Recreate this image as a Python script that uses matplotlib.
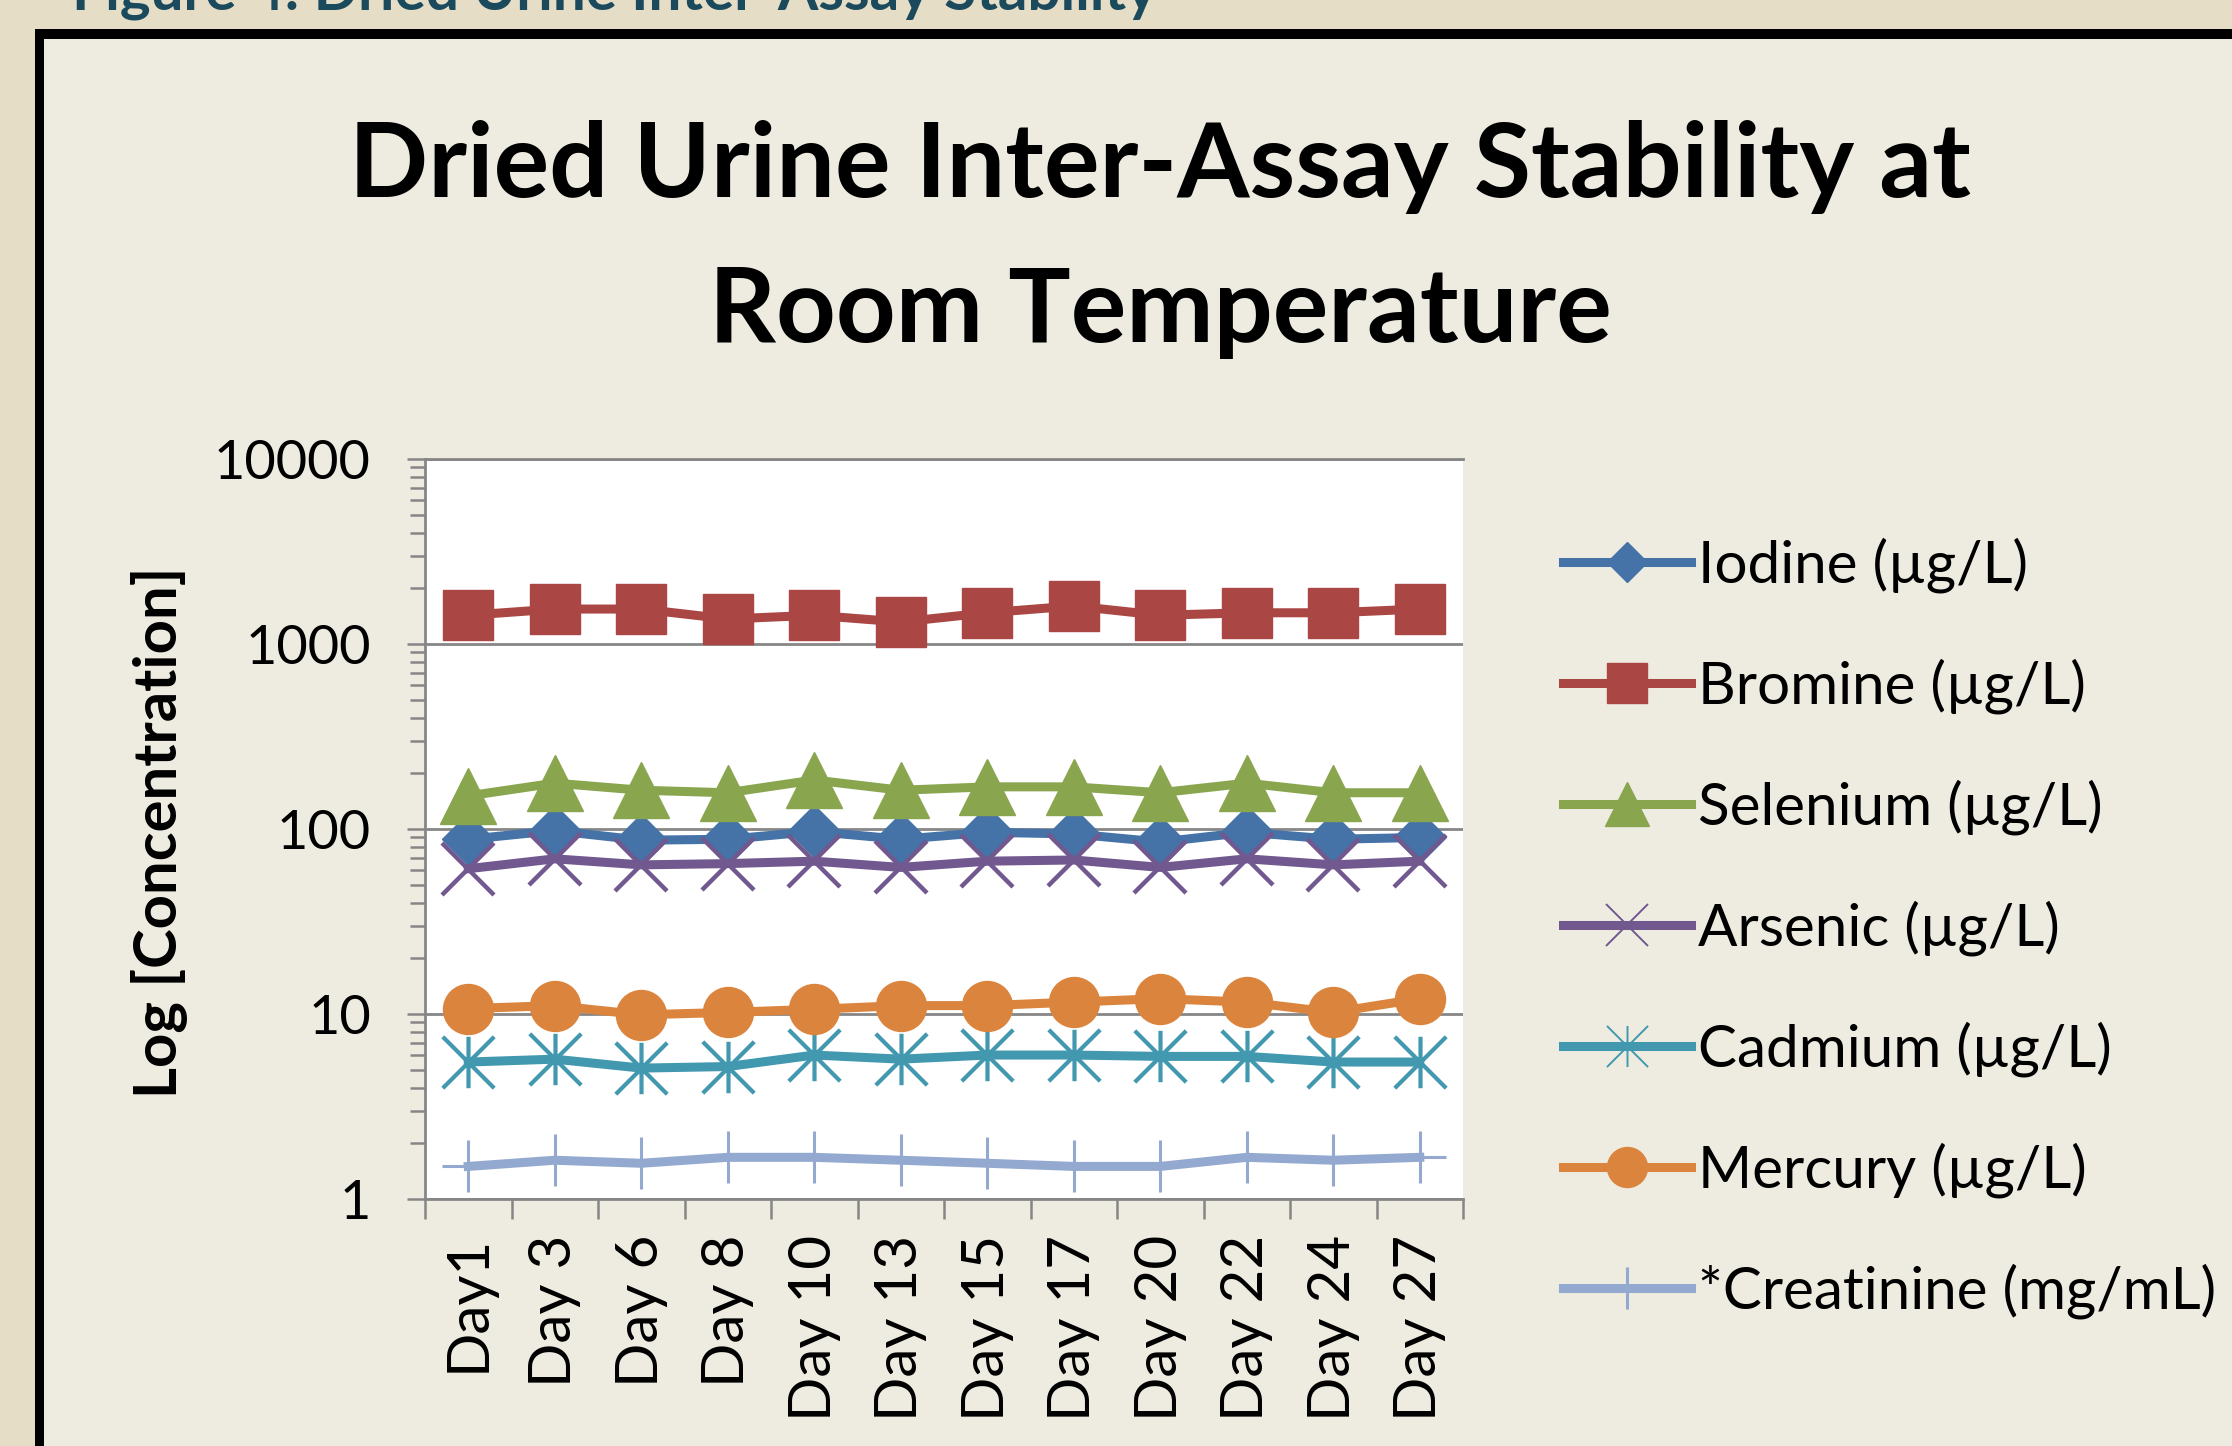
import matplotlib
matplotlib.use("Agg")
import matplotlib.pyplot as plt
from matplotlib.patches import Rectangle
from matplotlib.path import Path
from matplotlib.ticker import LogLocator, NullFormatter

plt.rcParams['font.family'] = ['Lato', 'DejaVu Sans']

# data
days = ["Day1", "Day 3", "Day 6", "Day 8", "Day 10", "Day 13",
        "Day 15", "Day 17", "Day 20", "Day 22", "Day 24", "Day 27"]
iodine = [88, 98, 87, 88, 97, 88, 96, 94, 85, 96, 88, 90]
bromine = [1430, 1545, 1545, 1365, 1430, 1315, 1475, 1605, 1430, 1475, 1475, 1545]
selenium = [151, 177, 162, 157, 184, 162, 169, 169, 157, 177, 157, 157]
arsenic = [61, 69, 64, 65, 67, 62, 67, 68, 62, 69, 64, 67]
cadmium = [5.5, 5.7, 5.1, 5.2, 6.0, 5.7, 6.0, 6.0, 5.9, 5.9, 5.5, 5.5]
mercury = [10.7, 11.1, 9.9, 10.2, 10.6, 11.1, 11.1, 11.6, 12.1, 11.6, 10.2, 12.1]
creatinine = [1.50, 1.62, 1.56, 1.68, 1.68, 1.62, 1.56, 1.50, 1.50, 1.68, 1.62, 1.68]

labels = ["Iodine (\u00b5g/L)", "Bromine (\u00b5g/L)", "Selenium (\u00b5g/L)",
          "Arsenic (\u00b5g/L)", "Cadmium (\u00b5g/L)", "Mercury (\u00b5g/L)",
          "*Creatinine (mg/mL)"]
colors = ['#4572A7', '#AA4643', '#89A54E', '#71588F', '#4198AF', '#DB843D', '#93A9CF']

# excel style "star" marker: an x with a vertical bar
star = Path([(-1, -1), (1, 1), (-1, 1), (1, -1), (0, -1), (0, 1)],
            [Path.MOVETO, Path.LINETO, Path.MOVETO, Path.LINETO, Path.MOVETO, Path.LINETO])

W, H = 2232, 1446
fig = plt.figure(figsize=(W / 100, H / 100), dpi=100)
fig.patch.set_facecolor('#E6DDC7')

# black frame + tan panel
fig.add_artist(Rectangle((35 / W, -0.1), 2, 1.1 - 29 / H, transform=fig.transFigure,
                         facecolor='black', edgecolor='none', zorder=-2))
fig.add_artist(Rectangle((44 / W, -0.1), 2, 1.1 - 39 / H, transform=fig.transFigure,
                         facecolor='#EEECE1', edgecolor='none', zorder=-1))

# caption, mostly off the top of the page like in the original
fig.text(72 / W, 1 - 9 / H, "Figure 4: Dried Urine Inter-Assay Stability",
         color='#1B4A5C', fontsize=42, fontweight='bold', va='baseline', ha='left')

# chart title
fig.text(1160 / W, 1 - 197 / H, "Dried Urine Inter-Assay Stability at",
         fontsize=75, fontweight='bold', ha='center', va='baseline')
fig.text(1160 / W, 1 - 342 / H, "Room Temperature",
         fontsize=75, fontweight='bold', ha='center', va='baseline')

ax = fig.add_axes([425 / W, 1 - 1199 / H, (1463 - 425) / W, (1199 - 459) / H])
ax.set_facecolor('white')

x = list(range(len(days)))
gray = '#868686'

ax.plot(x, iodine, color=colors[0], lw=6.5, marker='D', ms=26, mec=colors[0], label=labels[0])
ax.plot(x, bromine, color=colors[1], lw=6.5, marker='s', ms=36, mec=colors[1], label=labels[1])
ax.plot(x, selenium, color=colors[2], lw=6.5, marker='^', ms=40, mec=colors[2], label=labels[2])
ax.plot(x, arsenic, color=colors[3], lw=6.5, marker='x', ms=37, mew=3.2, mec=colors[3], label=labels[3])
ax.plot(x, cadmium, color=colors[4], lw=6.5, marker=star, ms=37, mew=3, mec=colors[4],
        mfc='none', label=labels[4])
ax.plot(x, mercury, color=colors[5], lw=6.5, marker='o', ms=36, mec=colors[5], label=labels[5])
ax.plot(x, creatinine, color=colors[6], lw=6.5, marker='+', ms=37, mew=2.2, mec=colors[6],
        label=labels[6])

ax.set_yscale('log')
ax.set_ylim(1, 10000)
ax.set_xlim(-0.5, len(days) - 0.5)

ax.set_yticks([1, 10, 100, 1000, 10000], ["1", "10", "100", "1000", "10000"])
ax.yaxis.set_minor_locator(LogLocator(base=10, subs=range(2, 10)))
ax.yaxis.set_minor_formatter(NullFormatter())
ax.tick_params(axis='y', which='major', length=13, width=1.8, color=gray, pad=26,
               labelsize=39)
ax.tick_params(axis='y', which='minor', length=10.8, width=1.8, color=gray)

ax.set_xticks(x, days, rotation=90)
ax.set_xticks([i - 0.5 for i in range(len(days) + 1)], minor=True)
ax.tick_params(axis='x', which='major', length=0, pad=26, labelsize=42)
ax.tick_params(axis='x', which='minor', length=14.4, width=1.8, color=gray)

ax.grid(axis='y', which='major', color=gray, lw=2)
ax.set_axisbelow(True)
for side in ['left', 'bottom', 'top']:
    ax.spines[side].set_color(gray)
    ax.spines[side].set_linewidth(2)
ax.spines['right'].set_visible(False)

ax.set_ylabel("Log [Concentration]", fontsize=43, fontweight='bold')
ax.yaxis.set_label_coords((188 - 425) / (1463 - 425), 1 - (832 - 459) / (1199 - 459))

leg = ax.legend(loc='center left', bbox_to_anchor=(1563 / W, 1 - 928 / H),
                bbox_transform=fig.transFigure, frameon=False, fontsize=42,
                markerscale=0.8, handlelength=2.2, handletextpad=0.12,
                labelspacing=1.12, borderpad=0, borderaxespad=0)
# the legend x / star markers are drawn thin in the original
for h in leg.legend_handles[3:5]:
    h.set_markeredgewidth(1.4)

fig.savefig('out.png', dpi=100, facecolor=fig.get_facecolor())
